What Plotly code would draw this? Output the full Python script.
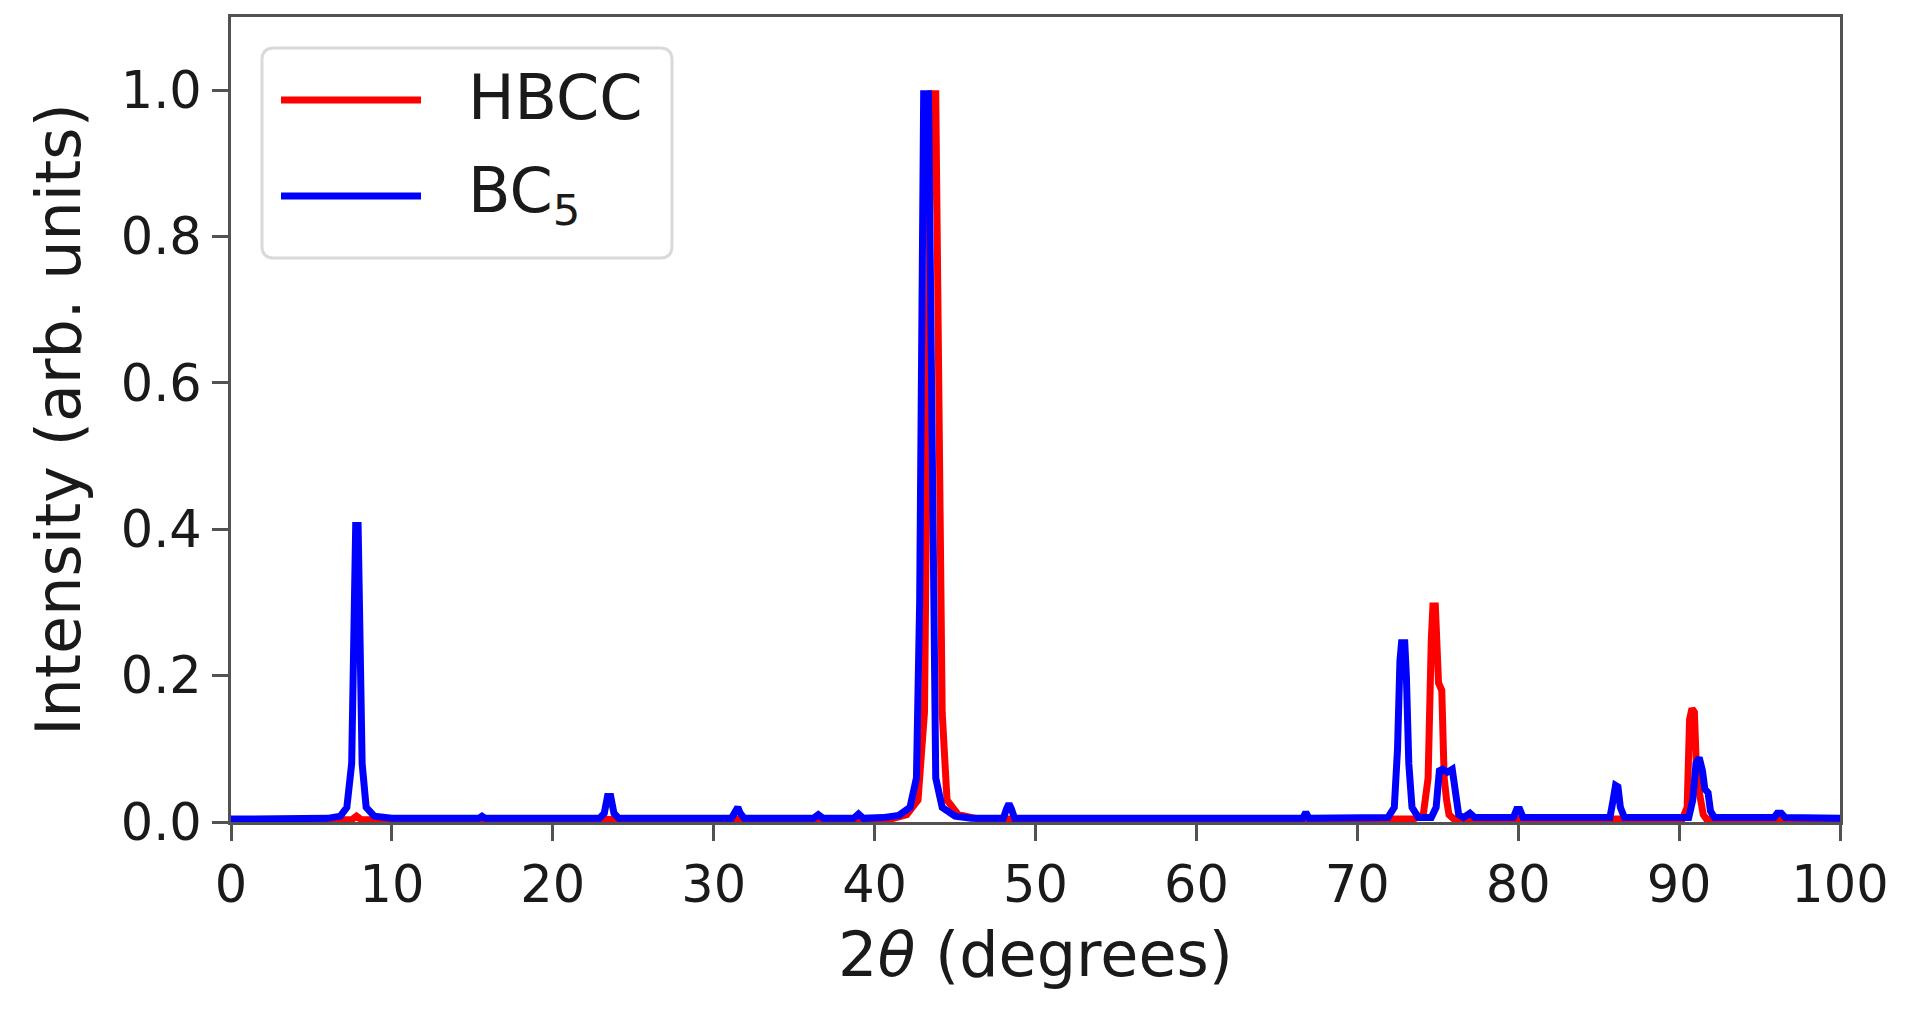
import plotly.graph_objects as go

# ---- data ----
hbcc_x = [0, 7.5, 7.8, 8.1, 41.0, 42.0, 42.7, 43.1, 43.3, 43.5, 43.8, 44.0, 44.2, 44.5, 45.2, 46.5,
          73.5, 74.1, 74.4, 74.6, 74.7, 74.85, 74.95, 75.05, 75.25, 75.4, 75.55, 75.7, 76.0,
          90.2, 90.5, 90.65, 90.8, 90.95, 91.1, 91.25, 91.35, 91.5, 91.7, 100]
hbcc_y = [0.003, 0.003, 0.008, 0.003, 0.004, 0.01, 0.03, 0.15, 0.6, 0.995, 0.995, 0.6, 0.15, 0.03, 0.01, 0.004,
          0.004, 0.01, 0.06, 0.25, 0.295, 0.295, 0.25, 0.19, 0.18, 0.06, 0.03, 0.01, 0.004,
          0.004, 0.02, 0.14, 0.155, 0.15, 0.06, 0.035, 0.035, 0.01, 0.004, 0.004]

bc5_x = [0, 6.0, 6.8, 7.2, 7.5, 7.65, 7.75, 7.9, 8.0, 8.15, 8.4, 8.9, 10, 15.4, 15.6, 15.8,
         22.9, 23.2, 23.4, 23.6, 23.8, 24.1, 31.1, 31.35, 31.5, 31.65, 31.9,
         36.2, 36.5, 36.8, 38.7, 39.0, 39.3, 40.5, 41.5, 42.2, 42.6, 42.8, 42.95, 43.05, 43.35, 43.45, 43.6,
         43.8, 44.2, 45.0, 46.0, 48.0, 48.2, 48.35, 48.5, 48.7, 54.5, 61.0, 61.2,
         66.6, 66.8, 67.0, 71.9, 72.3, 72.5, 72.65, 72.75, 72.95, 73.05, 73.2, 73.4, 73.8,
         74.6, 74.9, 75.1, 75.3, 75.6, 75.9, 76.1, 76.3, 76.6, 77.0, 77.3,
         79.7, 79.9, 80.1, 80.3, 85.7, 85.9, 86.05, 86.2, 86.35, 86.6,
         90.6, 90.85, 91.05, 91.25, 91.45, 91.6, 91.8, 91.95, 92.2, 95.9, 96.1, 96.35, 96.6, 100]
bc5_y = [0.004, 0.005, 0.008, 0.02, 0.08, 0.25, 0.405, 0.405, 0.25, 0.08, 0.02, 0.008, 0.005, 0.005, 0.008, 0.005,
         0.005, 0.012, 0.035, 0.035, 0.012, 0.005, 0.005, 0.012, 0.02, 0.012, 0.005,
         0.005, 0.01, 0.005, 0.005, 0.011, 0.005, 0.006, 0.009, 0.02, 0.06, 0.3, 0.75, 0.995, 0.995, 0.75, 0.3,
         0.06, 0.02, 0.008, 0.005, 0.005, 0.018, 0.025, 0.018, 0.005, 0.005, 0.007, 0.005,
         0.005, 0.013, 0.005, 0.006, 0.02, 0.1, 0.22, 0.245, 0.245, 0.2, 0.08, 0.02, 0.006,
         0.006, 0.02, 0.07, 0.072, 0.068, 0.072, 0.04, 0.01, 0.006, 0.012, 0.006,
         0.006, 0.017, 0.017, 0.006, 0.006, 0.03, 0.05, 0.048, 0.02, 0.006,
         0.006, 0.03, 0.08, 0.088, 0.07, 0.045, 0.04, 0.015, 0.006, 0.006, 0.012, 0.012, 0.006, 0.005]

series_names = ["HBCC", "BC<sub>5</sub>"]
series_colors = ["#ff0000", "#0000ff"]
x_ticks = [0, 10, 20, 30, 40, 50, 60, 70, 80, 90, 100]
y_ticks = [0.0, 0.2, 0.4, 0.6, 0.8, 1.0]
y_tick_text = ["0.0", "0.2", "0.4", "0.6", "0.8", "1.0"]

# ---- layout geometry (pixels) ----
W, H = 1910, 1014
L, R, T, B = 231, 1840, 17, 822
FONT = "DejaVu Sans"


def px(xp):
    return (xp - L) / (R - L)


def py(yp):
    return (B - yp) / (B - T)


fig = go.Figure()
for xs, ys, name, col in [(hbcc_x, hbcc_y, series_names[0], series_colors[0]),
                          (bc5_x, bc5_y, series_names[1], series_colors[1])]:
    fig.add_trace(go.Scatter(x=xs, y=ys, mode="lines", name=name,
                             line=dict(color=col, width=7), showlegend=False,
                             hoverinfo="skip"))

axis_common = dict(showgrid=False, zeroline=False, showline=True, mirror=True,
                   linecolor="rgba(0,0,0,0.68)", linewidth=3, ticks="outside",
                   ticklen=16, tickwidth=3, tickcolor="rgba(0,0,0,0.68)",
                   tickfont=dict(family=FONT, size=51, color="#1a1a1a"),
                   layer="above traces")

fig.update_layout(
    width=W, height=H,
    margin=dict(l=L, r=W - R, t=T, b=H - B, pad=0),
    paper_bgcolor="white", plot_bgcolor="white",
    xaxis=dict(range=[0, 100], tickvals=x_ticks, automargin=False,
               title=dict(text="2<i>θ</i> (degrees)", standoff=20,
                          font=dict(family=FONT, size=62, color="#1a1a1a")),
               **axis_common),
    yaxis=dict(range=[0, 1.1], tickvals=y_ticks, ticktext=y_tick_text, automargin=False,
               title=dict(text="Intensity (arb. units)", standoff=20,
                          font=dict(family=FONT, size=62, color="#1a1a1a")),
               **axis_common),
)

# ---- legend drawn by hand (box, sample lines, labels) ----
bx0, bx1, by0, by1, rr = 262, 672, 48, 258, 12
path = (f"M {px(bx0 + rr)},{py(by0)} L {px(bx1 - rr)},{py(by0)} "
        f"Q {px(bx1)},{py(by0)} {px(bx1)},{py(by0 + rr)} "
        f"L {px(bx1)},{py(by1 - rr)} Q {px(bx1)},{py(by1)} {px(bx1 - rr)},{py(by1)} "
        f"L {px(bx0 + rr)},{py(by1)} Q {px(bx0)},{py(by1)} {px(bx0)},{py(by1 - rr)} "
        f"L {px(bx0)},{py(by0 + rr)} Q {px(bx0)},{py(by0)} {px(bx0 + rr)},{py(by0)} Z")
fig.add_shape(type="path", path=path, xref="paper", yref="paper",
              line=dict(color="#d9d9d9", width=3), fillcolor="rgba(255,255,255,0.85)")
for yy, name, col in [(100, series_names[0], series_colors[0]),
                      (196, series_names[1], series_colors[1])]:
    fig.add_shape(type="line", xref="paper", yref="paper",
                  x0=px(281), x1=px(421), y0=py(yy), y1=py(yy),
                  line=dict(color=col, width=7))
    fig.add_annotation(x=px(466), y=py(yy - 2), xref="paper", yref="paper",
                       text=name, showarrow=False, xanchor="left", yanchor="middle",
                       font=dict(family=FONT, size=62, color="#1a1a1a"))

fig.write_html("out.html", config={"displayModeBar": False},
               post_script="document.body.style.margin='0';document.body.style.overflow='hidden';")
